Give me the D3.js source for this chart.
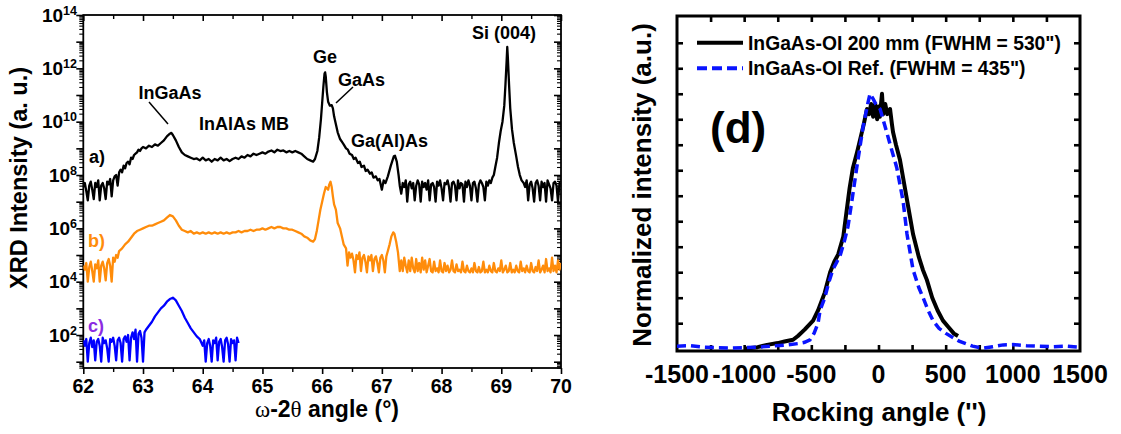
<!DOCTYPE html>
<html><head><meta charset="utf-8">
<script src="https://cdn.jsdelivr.net/npm/d3@7"></script>
<style>
body{margin:0;background:#fff}
svg{display:block}
text{font-family:"Liberation Sans",Arial,sans-serif;font-weight:bold}
</style>
</head><body>
<svg id="c" width="1121" height="434"></svg>
<script>
// ---------------- DATA (left panel: [2theta, log10 intensity]) ----------------
const xrdXTicks = [62,63,64,65,66,67,68,69,70];
const xrdYLabelExps = [2,4,6,8,10,12,14];

const seriesA = [
[62.000,7.55],[62.025,7.7],[62.050,7.4],[62.075,7.05],[62.100,7.6],[62.125,7.75],[62.150,7.45],[62.175,7.1],[62.200,7.7],[62.225,7.55],[62.250,7.8],[62.275,7.05],[62.300,7.6],[62.325,7.7],[62.350,7.5],[62.375,7.1],[62.400,7.75],[62.425,7.65],[62.450,7.85],[62.475,7.2],[62.500,7.8],[62.525,7.95],[62.550,8.0],[62.575,7.6],[62.600,8.1],
[62.625,8.2],[62.65,8.1],[62.675,8.35],[62.70,8.25],[62.725,8.45],[62.75,8.5],[62.775,8.4],[62.80,8.65],[62.825,8.6],[62.85,8.75],[62.875,8.8],[62.90,8.85],[62.925,8.95],[62.95,8.9],[62.975,9.0],[63.0,9.05],[63.05,9.0],[63.1,9.1],[63.15,9.05],[63.2,9.15],[63.25,9.1],[63.3,9.2],[63.35,9.3],[63.4,9.45],[63.45,9.55],[63.475,9.58],[63.5,9.5],[63.55,9.3],[63.6,9.05],[63.65,8.85],[63.7,8.75],[63.75,8.7],[63.8,8.65],[63.85,8.6],
[63.9,8.62],[63.95,8.55],[64.0,8.65],[64.05,8.55],[64.1,8.6],[64.15,8.5],[64.2,8.6],[64.25,8.55],[64.3,8.65],[64.35,8.55],[64.4,8.6],[64.45,8.52],[64.5,8.6],[64.55,8.65],[64.6,8.6],[64.65,8.7],[64.7,8.65],[64.75,8.75],[64.8,8.7],[64.85,8.8],[64.9,8.75],[64.95,8.8],[65.0,8.85],[65.05,8.8],[65.1,8.88],[65.15,8.92],[65.2,8.85],[65.25,8.95],[65.3,8.9],[65.35,8.92],[65.4,8.85],[65.45,8.9],[65.5,8.85],[65.55,8.9],[65.6,8.85],[65.65,8.8],[65.7,8.7],[65.75,8.6],[65.8,8.55],[65.85,8.5],[65.88,8.6],[65.92,8.9],[65.95,9.4],[65.98,10.1],[66.0,10.7],[66.02,11.3],[66.04,11.8],[66.05,11.85],[66.06,11.7],[66.08,11.1],[66.1,10.75],[66.13,10.6],[66.16,10.62],[66.18,10.5],[66.2,10.2],[66.23,9.9],[66.26,9.6],[66.3,9.35],[66.33,9.25],[66.36,9.15],[66.4,9.0],[66.43,8.95],[66.46,8.8],[66.5,8.75],[66.53,8.6],[66.56,8.65],[66.6,8.45],[66.63,8.5],[66.66,8.3],[66.7,8.35],[66.73,8.15],[66.76,8.2],[66.8,8.05],[66.83,8.1],[66.86,7.9],[66.9,7.95],[66.93,7.8],[66.96,7.85],[67.0,7.45],[67.03,7.8],[67.06,7.7],[67.1,7.95],[67.15,8.35],[67.2,8.7],[67.22,8.72],[67.25,8.5],[67.28,8.0],[67.3,7.6],
[67.325,7.3],[67.35,7.7],[67.375,7.55],[67.4,7.8],[67.425,7.0],[67.45,7.65],[67.475,7.75],[67.5,7.5],[67.525,7.7],[67.55,7.05],[67.575,7.6],[67.6,7.8],[67.625,7.65],[67.65,7.0],[67.675,7.75],[67.7,7.55],[67.725,7.7],[67.75,7.45],[67.775,7.8],[67.8,7.05],[67.825,7.65],[67.85,7.7],[67.875,7.55],[67.9,7.0],[67.925,7.75],[67.95,7.6],[67.975,7.8],[68.0,7.5],[68.025,7.05],[68.05,7.7],[68.075,7.65],[68.1,7.8],[68.125,7.55],[68.15,7.0],[68.175,7.7],[68.2,7.75],[68.225,7.6],[68.25,7.05],[68.275,7.8],[68.3,7.5],[68.325,7.7],[68.35,7.65],[68.375,7.0],[68.4,7.75],[68.425,7.55],[68.45,7.8],[68.475,7.6],[68.5,7.05],[68.525,7.7],[68.55,7.75],[68.575,7.5],[68.6,7.0],[68.625,7.65],[68.65,7.8],[68.675,7.7],[68.7,7.55],[68.725,7.05],[68.75,7.75],[68.775,7.6],[68.8,7.8],[68.825,7.7],
[68.85,7.9],[68.875,8.0],[68.9,8.3],[68.93,8.65],[68.96,9.2],[68.99,9.65],[69.02,10.0],[69.05,10.6],[69.07,11.4],[69.09,12.3],[69.10,12.8],[69.11,12.4],[69.13,11.4],[69.15,10.5],[69.18,9.7],[69.21,9.2],[69.25,8.7],[69.28,8.3],[69.31,8.0],[69.34,7.8],
[69.375,7.7],[69.4,7.55],[69.425,7.8],[69.45,7.05],[69.475,7.65],[69.5,7.75],[69.525,7.5],[69.55,7.0],[69.575,7.7],[69.6,7.8],[69.625,7.6],[69.65,7.05],[69.675,7.75],[69.7,7.55],[69.725,7.7],[69.75,7.0],[69.775,7.8],[69.8,7.65],[69.825,7.5],[69.85,7.05],[69.875,7.7],[69.9,7.75],[69.925,7.6],[69.95,7.0],[69.975,7.7],[70.0,7.65]
];

const seriesB = [
[62.0,4.6],[62.025,4.45],[62.05,4.7],[62.075,4.0],[62.1,4.55],[62.125,4.75],[62.15,4.4],[62.175,4.0],[62.2,4.65],[62.225,4.5],[62.25,4.8],[62.275,4.0],[62.3,4.6],[62.325,4.75],[62.35,4.5],[62.375,4.05],[62.4,4.7],[62.425,4.85],[62.45,4.6],[62.475,4.0],[62.5,4.9],[62.525,4.75],
[62.55,5.0],[62.575,4.9],[62.6,5.15],[62.65,5.25],[62.7,5.4],[62.75,5.5],[62.8,5.65],[62.85,5.8],[62.9,5.9],[62.95,5.95],[63.0,6.0],[63.05,6.05],[63.1,6.1],[63.15,6.1],[63.2,6.15],[63.25,6.2],[63.3,6.25],[63.35,6.3],[63.4,6.4],[63.45,6.5],[63.5,6.45],[63.55,6.3],[63.6,6.1],[63.65,5.95],[63.7,5.9],[63.75,5.85],[63.8,5.9],[63.85,5.8],[63.9,5.85],[63.95,5.8],[64.0,5.85],[64.05,5.8],[64.1,5.85],[64.15,5.8],[64.2,5.85],[64.25,5.8],[64.3,5.85],[64.35,5.8],[64.4,5.85],[64.45,5.8],[64.5,5.85],[64.55,5.85],[64.6,5.9],[64.65,5.85],[64.7,5.9],[64.75,5.9],[64.8,5.95],[64.85,5.9],[64.9,5.95],[64.95,5.95],[65.0,6.0],[65.05,5.95],[65.1,6.0],[65.15,6.05],[65.2,6.0],[65.25,6.05],[65.3,6.05],[65.35,6.0],[65.4,6.0],[65.45,5.95],[65.5,5.95],[65.55,5.9],[65.6,5.85],[65.65,5.8],[65.7,5.7],[65.75,5.65],[65.8,5.55],[65.85,5.5],[65.88,5.6],[65.91,5.9],[65.94,6.3],[65.97,6.7],[66.0,7.0],[66.03,7.3],[66.06,7.55],[66.08,7.5],[66.1,7.45],[66.12,7.65],[66.14,7.75],[66.16,7.55],[66.18,7.2],[66.2,6.9],[66.23,6.7],[66.26,6.2],[66.3,6.0],[66.33,5.7],[66.36,5.4],[66.4,5.25],[66.425,4.6],[66.45,5.1],
[66.475,4.9],[66.5,5.05],[66.525,4.8],[66.55,4.35],[66.575,5.0],[66.6,4.85],[66.625,5.1],[66.65,4.4],[66.675,4.9],[66.7,5.0],[66.725,4.75],[66.75,4.35],[66.775,4.95],[66.8,4.8],[66.825,5.0],[66.85,4.4],[66.875,4.85],[66.9,4.95],[66.925,4.7],[66.95,4.35],[66.975,4.9],[67.0,5.0],[67.025,4.8],[67.05,4.35],[67.075,4.95],[67.1,5.15],[67.13,5.4],[67.16,5.7],[67.19,5.85],[67.21,5.8],[67.24,5.5],[67.27,5.1],[67.3,4.4],
[67.325,4.8],[67.35,4.4],[67.375,4.9],[67.4,4.6],[67.425,4.35],[67.45,4.8],[67.475,4.4],[67.5,4.9],[67.525,4.5],[67.55,4.35],[67.575,4.85],[67.6,4.4],[67.625,4.7],[67.65,4.35],[67.675,4.9],[67.7,4.45],[67.725,4.8],[67.75,4.35],[67.775,4.6],[67.8,4.85],[67.825,4.4],[67.85,4.35],[67.875,4.75],[67.9,4.4],[67.925,4.5],[67.95,4.35],[67.975,4.8],[68.0,4.4],[68.025,4.35],[68.05,4.7],[68.075,4.4],[68.1,4.6],[68.125,4.35],[68.15,4.45],[68.175,4.8],[68.2,4.4],[68.225,4.35],[68.25,4.65],[68.275,4.4],[68.3,4.45],[68.325,4.35],[68.35,4.75],[68.375,4.4],[68.4,4.35],[68.425,4.6],[68.45,4.4],[68.475,4.35],[68.5,4.5],[68.525,4.35],[68.55,4.7],[68.575,4.4],[68.6,4.35],[68.625,4.55],[68.65,4.35],[68.675,4.4],[68.7,4.75],[68.725,4.35],[68.75,4.45],[68.775,4.35],[68.8,4.6],[68.825,4.4],[68.85,4.35],[68.875,4.7],[68.9,4.4],[68.925,4.35],[68.95,4.5],[68.975,4.4],[69.0,4.8],[69.025,4.35],[69.05,4.45],[69.075,4.6],[69.1,4.35],[69.125,4.4],[69.15,4.7],[69.175,4.35],[69.2,4.45],[69.225,4.35],[69.25,4.6],[69.275,4.4],[69.3,4.35],[69.325,4.75],[69.35,4.4],[69.375,4.5],[69.4,4.35],[69.425,4.6],[69.45,4.4],[69.475,4.35],[69.5,4.7],[69.525,4.4],[69.55,4.35],[69.575,4.55],[69.6,4.4],[69.625,4.8],[69.65,4.35],[69.675,4.45],[69.7,4.6],[69.725,4.35],[69.75,4.85],[69.775,4.4],[69.8,4.5],[69.825,4.35],[69.85,4.9],[69.875,4.4],[69.9,4.6],[69.925,4.35],[69.95,4.8],[69.975,4.45],[70.0,4.7]
];

const seriesC = [
[62.0,1.8],[62.025,1.6],[62.05,1.85],[62.075,1.0],[62.1,1.7],[62.125,1.9],[62.15,1.55],[62.175,1.8],[62.2,1.05],[62.225,1.75],[62.25,1.85],[62.275,1.6],[62.3,1.0],[62.325,1.9],[62.35,1.7],[62.375,1.8],[62.4,1.5],[62.425,1.0],[62.45,1.85],[62.475,1.75],[62.5,1.9],[62.525,1.6],[62.55,1.05],[62.575,1.8],[62.6,1.9],[62.625,1.7],[62.65,1.0],[62.675,1.85],[62.7,1.95],[62.725,1.75],[62.75,2.0],[62.775,1.05],[62.8,1.9],[62.825,2.1],[62.85,1.85],[62.875,2.2],[62.9,1.0],[62.925,2.05],[62.95,2.15],[62.975,1.9],[63.0,1.0],
[63.025,2.1],[63.05,2.2],[63.1,2.35],[63.15,2.5],[63.2,2.7],[63.25,2.85],[63.3,3.0],[63.35,3.1],[63.4,3.25],[63.45,3.35],[63.5,3.4],[63.55,3.3],[63.6,3.1],[63.65,2.9],[63.7,2.65],[63.75,2.45],[63.8,2.25],[63.85,2.1],[63.9,1.95],[63.95,1.85],[64.0,1.6],[64.025,1.8],
[64.05,1.0],[64.075,1.7],[64.1,1.85],[64.125,1.6],[64.15,1.0],[64.175,1.8],[64.2,1.7],[64.225,1.9],[64.25,1.05],[64.275,1.75],[64.3,1.85],[64.325,1.55],[64.35,1.0],[64.375,1.8],[64.4,1.9],[64.425,1.65],[64.45,1.0],[64.475,1.85],[64.5,1.7],[64.525,1.8],[64.55,1.05],[64.575,1.9],[64.6,1.7]
];

// ---------------- DATA (right panel: [rocking angle, normalized intensity]) ----------------
const rockXLabels = [-1500,-1000,-500,0,500,1000,1500];
const rockXTicks = [-1250,-1000,-750,-500,-250,0,250,500,750,1000,1250];
const rockYTicks = [0.1,0.2,0.3,0.4,0.5,0.6,0.7,0.8,0.9,1.0,1.1,1.2];

const rock200 = [
[-1000,0.0],[-950,0.003],[-900,0.006],[-830,0.015],[-750,0.022],[-700,0.028],[-636,0.035],[-600,0.05],[-550,0.075],[-487,0.11],[-450,0.15],[-400,0.22],[-360,0.30],[-330,0.34],[-300,0.37],[-262,0.44],[-235,0.55],[-215,0.63],[-190,0.71],[-160,0.77],[-137,0.82],[-110,0.88],[-86,0.94],[-70,0.92],[-55,0.96],[-40,0.91],[-25,0.96],[-10,0.9],[0,0.95],[10,0.91],[26,1.0],[35,0.92],[50,0.96],[65,0.92],[86,0.94],[100,0.88],[108,0.85],[130,0.8],[160,0.74],[190,0.65],[220,0.56],[257,0.45],[300,0.36],[330,0.31],[360,0.27],[400,0.2],[440,0.15],[480,0.11],[520,0.085],[560,0.06],[592,0.05]
];
const rockRef = [
[-1500,0.01],[-1400,0.012],[-1300,0.006],[-1200,0.004],[-1100,0.003],[-1000,0.004],[-900,0.006],[-800,0.01],[-700,0.014],[-600,0.02],[-550,0.025],[-510,0.035],[-480,0.06],[-450,0.1],[-435,0.15],[-400,0.2],[-370,0.26],[-340,0.31],[-310,0.34],[-283,0.37],[-250,0.43],[-227,0.48],[-198,0.58],[-162,0.71],[-115,0.87],[-80,0.96],[-63,1.0],[-40,0.98],[-20,0.96],[12,0.94],[50,0.87],[87,0.8],[136,0.71],[183,0.58],[212,0.45],[257,0.31],[300,0.24],[332,0.2],[370,0.15],[406,0.11],[450,0.08],[502,0.06],[550,0.045],[600,0.03],[650,0.02],[700,0.01],[778,0.002],[850,0.008],[928,0.015],[1000,0.016],[1100,0.012],[1200,0.01],[1300,0.008],[1400,0.01],[1500,0.006]
];

// ---------------- DRAW ----------------
const svg = d3.select("#c");
const p10 = v => Math.pow(10, v);

// ===== LEFT PANEL =====
const L = {x0:83.3, x1:561, y0:15, y1:368};
const xL = d3.scaleLinear().domain([62,70]).range([L.x0,L.x1]);
const yL = d3.scaleLog().domain([p10(0.764), 1e14]).range([L.y1,L.y0]);

const majorY = d3.range(1,15).map(p10);
const minorY = [];
for (let e=0;e<14;e++) for (let k=2;k<10;k++){ const v=k*p10(e); if (v>=yL.domain()[0] && v<=1e14) minorY.push(v); }
const minorX = d3.range(62.5,70,1);

function styleAxis(g, w){ g.select(".domain").remove(); g.selectAll("line").attr("stroke","#000").attr("stroke-width",w); g.selectAll("text").remove(); }

svg.append("g").attr("transform",`translate(0,${L.y1})`).call(d3.axisBottom(xL).tickValues(xrdXTicks).tickSize(6).tickFormat("")).call(styleAxis,1.6);
svg.append("g").attr("transform",`translate(0,${L.y1})`).call(d3.axisBottom(xL).tickValues(minorX).tickSize(4).tickFormat("")).call(styleAxis,1.4);
svg.append("g").attr("transform",`translate(0,${L.y0})`).call(d3.axisBottom(xL).tickValues(xrdXTicks).tickSize(6).tickFormat("")).call(styleAxis,1.6);
svg.append("g").attr("transform",`translate(0,${L.y0})`).call(d3.axisBottom(xL).tickValues(minorX).tickSize(4).tickFormat("")).call(styleAxis,1.4);
svg.append("g").attr("transform",`translate(${L.x0},0)`).call(d3.axisLeft(yL).tickValues(majorY).tickSize(7).tickFormat("")).call(styleAxis,1.6);
svg.append("g").attr("transform",`translate(${L.x0},0)`).call(d3.axisLeft(yL).tickValues(minorY).tickSize(4).tickFormat("")).call(styleAxis,1.1);
svg.append("g").attr("transform",`translate(${L.x1},0)`).call(d3.axisLeft(yL).tickValues(majorY).tickSize(7).tickFormat("")).call(styleAxis,1.6);
svg.append("g").attr("transform",`translate(${L.x1},0)`).call(d3.axisLeft(yL).tickValues(minorY).tickSize(4).tickFormat("")).call(styleAxis,1.1);

svg.append("rect").attr("x",L.x0).attr("y",L.y0).attr("width",L.x1-L.x0).attr("height",L.y1-L.y0)
  .attr("fill","none").attr("stroke","#000").attr("stroke-width",1.8);

svg.append("g").selectAll("text").data(xrdXTicks).join("text")
  .attr("x",d=>xL(d)).attr("y",393).attr("text-anchor","middle").attr("font-size",19.5).text(d=>d);
const yl = svg.append("g").selectAll("text").data(xrdYLabelExps).join("text")
  .attr("x",77).attr("y",d=>yL(p10(d))+6.5).attr("text-anchor","end").attr("font-size",19);
yl.append("tspan").text("10");
yl.append("tspan").attr("dy",-7).attr("font-size",12.5).text(d=>d);

svg.append("text").attr("transform","translate(27,178) rotate(-90)").attr("text-anchor","middle")
  .attr("font-size",23.5).text("XRD Intensity (a. u.)");
const xt = svg.append("text").attr("x",327).attr("y",417).attr("text-anchor","middle").attr("font-size",23);
xt.append("tspan").attr("font-family","Liberation Serif, Times New Roman, serif").attr("font-weight","normal").text("ω");
xt.append("tspan").text("-2");
xt.append("tspan").attr("font-family","Liberation Serif, Times New Roman, serif").attr("font-weight","normal").text("θ");
xt.append("tspan").text(" angle (°)");

svg.append("clipPath").attr("id","clipL").append("rect").attr("x",L.x0).attr("y",L.y0).attr("width",L.x1-L.x0).attr("height",L.y1-L.y0);
const lineL = d3.line().x(d=>xL(d[0])).y(d=>yL(p10(d[1])));
const gL = svg.append("g").attr("clip-path","url(#clipL)");
gL.append("path").datum(seriesC).attr("d",lineL).attr("fill","none").attr("stroke","#0000ff").attr("stroke-width",2.3).attr("stroke-linejoin","round");
gL.append("path").datum(seriesB).attr("d",lineL).attr("fill","none").attr("stroke","#ff8c0a").attr("stroke-width",2.3).attr("stroke-linejoin","round");
gL.append("path").datum(seriesA).attr("d",lineL).attr("fill","none").attr("stroke","#000").attr("stroke-width",2.3).attr("stroke-linejoin","round");

const ann = [
  {t:"InGaAs",x:170,y:99,a:"middle"},
  {t:"InAlAs MB",x:199,y:130,a:"start"},
  {t:"Ge",x:325,y:63,a:"middle"},
  {t:"GaAs",x:338,y:86,a:"start"},
  {t:"Ga(Al)As",x:351,y:147,a:"start"},
  {t:"Si (004)",x:472,y:39,a:"start"}
];
svg.append("g").selectAll("text").data(ann).join("text").attr("x",d=>d.x).attr("y",d=>d.y)
  .attr("text-anchor",d=>d.a).attr("font-size",18).text(d=>d.t);
svg.append("line").attr("x1",149).attr("y1",102).attr("x2",168).attr("y2",124).attr("stroke","#000").attr("stroke-width",1.5);
svg.append("line").attr("x1",353).attr("y1",87).attr("x2",336).attr("y2",103).attr("stroke","#000").attr("stroke-width",1.5);
svg.append("text").attr("x",89).attr("y",163).attr("font-size",18).attr("fill","#000").text("a)");
svg.append("text").attr("x",88).attr("y",247).attr("font-size",18).attr("fill","#ff8c0a").text("b)");
svg.append("text").attr("x",88).attr("y",332).attr("font-size",18).attr("fill","#8c2be2").text("c)");

// ===== RIGHT PANEL =====
const R = {x0:677, x1:1080, y0:16, y1:351};
const xR = d3.scaleLinear().domain([-1500,1500]).range([R.x0,R.x1]);
const yR = d3.scaleLinear().domain([-0.009,1.305]).range([R.y1,R.y0]);

svg.append("g").attr("transform",`translate(0,${R.y1})`).call(d3.axisTop(xR).tickValues(rockXTicks).tickSize(6).tickFormat("")).call(styleAxis,2.6);
svg.append("g").attr("transform",`translate(0,${R.y0})`).call(d3.axisBottom(xR).tickValues(rockXTicks).tickSize(6).tickFormat("")).call(styleAxis,2.6);
svg.append("g").attr("transform",`translate(${R.x0},0)`).call(d3.axisRight(yR).tickValues(rockYTicks).tickSize(6).tickFormat("")).call(styleAxis,2.6);
svg.append("g").attr("transform",`translate(${R.x1},0)`).call(d3.axisLeft(yR).tickValues(rockYTicks).tickSize(6).tickFormat("")).call(styleAxis,2.6);
svg.append("rect").attr("x",R.x0).attr("y",R.y0).attr("width",R.x1-R.x0).attr("height",R.y1-R.y0)
  .attr("fill","none").attr("stroke","#000").attr("stroke-width",3);

svg.append("g").selectAll("text").data(rockXLabels).join("text")
  .attr("x",d=>xR(d)).attr("y",383).attr("text-anchor","middle").attr("font-size",25).text(d=>d);
svg.append("text").attr("x",879).attr("y",421).attr("text-anchor","middle").attr("font-size",26).text("Rocking angle ('')");
svg.append("text").attr("transform","translate(651,185) rotate(-90)").attr("text-anchor","middle")
  .attr("font-size",26).text("Normalized intensity (a.u.)");

svg.append("clipPath").attr("id","clipR").append("rect").attr("x",R.x0).attr("y",R.y0).attr("width",R.x1-R.x0).attr("height",R.y1-R.y0);
const lineR = d3.line().x(d=>xR(d[0])).y(d=>yR(d[1]));
const gR = svg.append("g").attr("clip-path","url(#clipR)");
gR.append("path").datum(rock200).attr("d",lineR).attr("fill","none").attr("stroke","#000").attr("stroke-width",4).attr("stroke-linejoin","round");
gR.append("path").datum(rockRef).attr("d",lineR).attr("fill","none").attr("stroke","#0a14ff").attr("stroke-width",3.5).attr("stroke-dasharray","9,5");

svg.append("line").attr("x1",697).attr("x2",743).attr("y1",42.7).attr("y2",42.7).attr("stroke","#000").attr("stroke-width",4);
svg.append("line").attr("x1",697).attr("x2",743).attr("y1",68.3).attr("y2",68.3).attr("stroke","#0a14ff").attr("stroke-width",4).attr("stroke-dasharray","10,5");
svg.append("text").attr("x",748).attr("y",49.5).attr("font-size",19.3).text('InGaAs-OI 200 mm (FWHM = 530")');
svg.append("text").attr("x",748).attr("y",75).attr("font-size",19.3).text('InGaAs-OI Ref. (FWHM = 435")');
svg.append("text").attr("x",710).attr("y",143).attr("font-size",44).text("(d)");
</script>
</body></html>
